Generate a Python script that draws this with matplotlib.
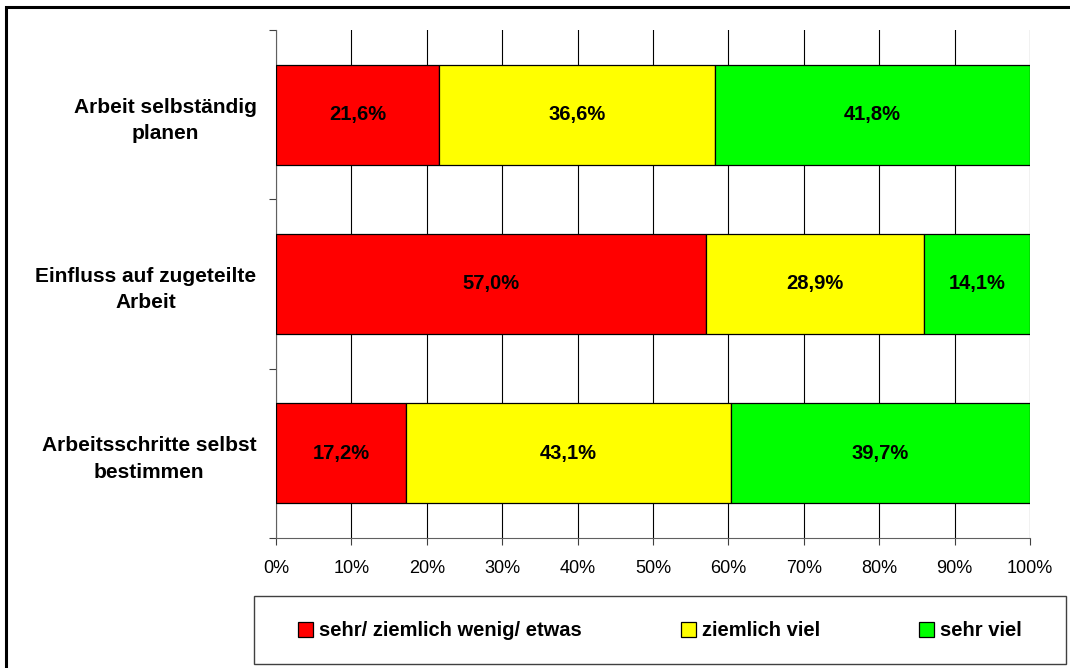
import matplotlib.pyplot as plt
from matplotlib.patches import Rectangle

plt.rcParams['font.family'] = ['Liberation Sans', 'DejaVu Sans']

# Daten
kategorien = ["Arbeit selbständig\nplanen", "Einfluss auf zugeteilte\nArbeit", "Arbeitsschritte selbst\nbestimmen"]
wenig = [21.6, 57.0, 17.2]
ziemlich_viel = [36.6, 28.9, 43.1]
sehr_viel = [41.8, 14.1, 39.7]
serien_namen = ["sehr/ ziemlich wenig/ etwas", "ziemlich viel", "sehr viel"]
farben = ["#ff0000", "#ffff00", "#00ff00"]

W, H = 1070, 668
fig = plt.figure(figsize=(W / 100, H / 100), dpi=100)
ax = fig.add_axes([276 / W, 1 - 538 / H, (1030 - 276) / W, (538 - 30) / H])

# Rahmen um das ganze Diagramm (rechts und unten abgeschnitten)
fig.patches.append(Rectangle((6 / W, -0.01), 1.05, 1 - 7 / H + 0.01,
                             transform=fig.transFigure, fill=False,
                             edgecolor="black", linewidth=2.2))
# Rahmen der Legende
fig.patches.append(Rectangle((254 / W, 1 - 664 / H), (1066 - 254) / W, 68 / H,
                             transform=fig.transFigure, fill=False,
                             edgecolor="#404040", linewidth=1.0))

y = [2, 1, 0]
links = [0, 0, 0]
for werte, farbe, name in zip([wenig, ziemlich_viel, sehr_viel], farben, serien_namen):
    bars = ax.barh(y, werte, left=links, height=0.59, color=farbe,
                   edgecolor="black", linewidth=0.9, label=name, zorder=3)
    for b, w in zip(bars, werte):
        ax.text(b.get_x() + b.get_width() / 2, b.get_y() + b.get_height() / 2,
                f"{w:.1f}%".replace(".", ","), ha="center", va="center",
                fontsize=14.5, fontweight="bold", zorder=4)
    links = [l + w for l, w in zip(links, werte)]

ax.set_xlim(0, 100)
ax.set_ylim(-0.5, 2.5)
ax.set_xticks(range(0, 101, 10))
ax.set_xticklabels([f"{v}%" for v in range(0, 101, 10)], fontsize=13)
ax.xaxis.grid(True, color="black", linewidth=0.8, zorder=0)

ax.set_yticks([-0.5, 0.5, 1.5, 2.5])
ax.set_yticklabels([])
ax.set_yticks(y, minor=True)
ax.set_yticklabels(kategorien, minor=True, fontsize=15, fontweight="bold",
                   multialignment="center", linespacing=1.5)
ax.tick_params(axis="y", which="minor", length=0, pad=14)
ax.tick_params(axis="y", which="major", length=5, color="#404040")
ax.tick_params(axis="x", length=5, color="#404040", pad=11)

for s in ["top", "right"]:
    ax.spines[s].set_visible(False)
ax.spines["left"].set_color("#606060")
ax.spines["bottom"].set_color("#606060")

# Legende
leg = fig.legend(loc="center", bbox_to_anchor=(660 / W, 1 - 631 / H),
                 ncol=3, frameon=False, prop={"weight": "bold", "size": 14.5},
                 handlelength=0.75, handleheight=0.75, handletextpad=0.3,
                 columnspacing=4.9, borderaxespad=0)

fig.savefig("out.png", dpi=100)
